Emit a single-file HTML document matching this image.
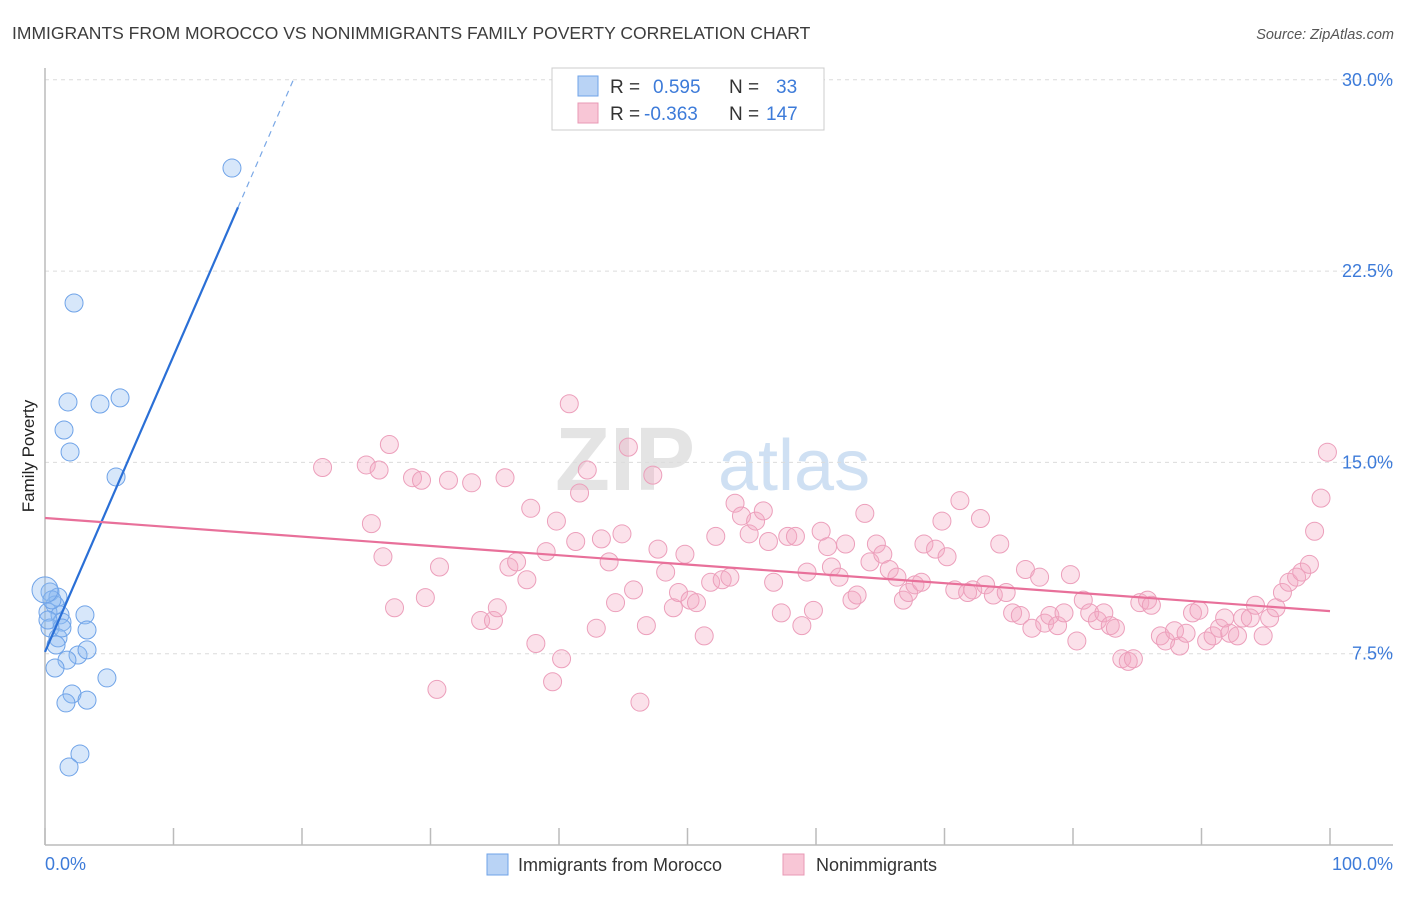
<!DOCTYPE html>
<html><head><meta charset="utf-8"><style>
body{margin:0;background:#fff;font-family:"Liberation Sans",sans-serif;}
svg text{font-family:"Liberation Sans",sans-serif;}
</style></head><body>
<svg id="chart" width="1406" height="892" xmlns="http://www.w3.org/2000/svg">
<text x="12" y="39" font-size="17.5" fill="#3c3c3c">IMMIGRANTS FROM MOROCCO VS NONIMMIGRANTS FAMILY POVERTY CORRELATION CHART</text>
<text x="1394" y="39" font-size="14.5" fill="#555" font-style="italic" text-anchor="end">Source: ZipAtlas.com</text>
<g>
<text x="555" y="490" font-size="90" fill="#e4e4e4" font-family="Liberation Serif" font-weight="bold">ZIP</text>
<text x="718" y="490" font-size="72" fill="#cfe0f3">atlas</text>
</g>
<g id="grid"></g>
<g id="axes"></g>
<text transform="translate(34,456) rotate(-90)" font-size="17" fill="#222" text-anchor="middle">Family Poverty</text>
<g id="pink"></g>
<g id="blue"></g>
<g id="lines"></g>
<g>
<rect x="552" y="68" width="272" height="62" fill="#fff" stroke="#ccc"/>
<rect x="578" y="76" width="20" height="20" fill="#b9d3f5" stroke="#6fa3e8"/>
<rect x="578" y="103" width="20" height="20" fill="#f8c6d6" stroke="#e899b5"/>
<text x="610" y="93" font-size="19" fill="#333">R = </text><text x="653" y="93" font-size="19" fill="#3d7bd9">0.595</text>
<text x="729" y="93" font-size="19" fill="#333">N = </text><text x="776" y="93" font-size="19" fill="#3d7bd9">33</text>
<text x="610" y="120" font-size="19" fill="#333">R = </text><text x="644" y="120" font-size="19" fill="#3d7bd9">-0.363</text>
<text x="729" y="120" font-size="19" fill="#333">N = </text><text x="766" y="120" font-size="19" fill="#3d7bd9">147</text>
</g>
<g>
<rect x="487" y="854" width="21" height="21" fill="#b9d3f5" stroke="#6fa3e8"/>
<text x="518" y="871" font-size="18" fill="#333">Immigrants from Morocco</text>
<rect x="783" y="854" width="21" height="21" fill="#f8c6d6" stroke="#e899b5"/>
<text x="816" y="871" font-size="18" fill="#333">Nonimmigrants</text>
</g>
</svg>
<script>
const yTicks=[7.5,15,22.5,30];
const yTickLabels=["7.5%","15.0%","22.5%","30.0%"];
const xTickLabels=["0.0%","100.0%"];
const blueX=[14.55,2.26,1.79,4.28,5.84,1.48,1.95,5.53,0.39,1.01,0.78,0.23,1.17,1.32,0.39,3.11,3.27,1.01,2.57,3.27,1.71,0.78,4.82,2.10,1.63,3.27,2.72,1.87,0.23,0.54,1.32,0,0.86];
const blueY=[26.54,21.25,17.37,17.29,17.53,16.27,15.41,14.43,9.92,9.72,9.41,9.13,9.02,8.74,8.51,9.02,8.43,8.12,7.45,7.65,7.25,6.94,6.55,5.92,5.57,5.68,3.57,3.06,8.82,9.61,8.51,10.0,7.84];
const pinkX=[21.6,25.0,26.0,26.8,25.4,26.3,27.2,28.6,29.3,29.6,30.7,30.5,31.4,33.2,33.9,34.9,35.2,35.8,36.1,36.7,37.5,37.8,38.2,39.0,39.8,39.5,40.2,40.8,41.6,42.2,41.3,42.9,43.3,43.9,44.4,44.9,45.4,45.8,46.3,46.8,47.3,47.7,48.3,48.9,49.3,49.8,50.2,50.7,51.3,51.8,52.2,52.7,53.3,53.7,54.2,54.8,55.3,55.9,56.3,56.7,57.3,57.8,58.4,58.9,59.3,59.8,60.4,60.9,61.2,61.8,62.3,62.8,63.2,63.8,64.2,64.7,65.2,65.7,66.3,66.8,67.2,67.7,68.2,68.4,69.3,69.8,70.2,70.8,71.2,71.8,72.2,72.8,73.2,73.8,74.3,74.8,75.3,75.9,76.3,76.8,77.4,77.8,78.2,78.8,79.3,79.8,80.3,80.8,81.3,81.9,82.4,82.9,83.3,83.8,84.3,84.7,85.2,85.8,86.1,86.8,87.2,87.9,88.3,88.8,89.3,89.8,90.4,90.9,91.4,91.8,92.2,92.8,93.2,93.8,94.2,94.8,95.3,95.8,96.3,96.8,97.4,97.8,98.4,98.8,99.3,99.8];
const pinkY=[14.8,14.9,14.7,15.7,12.6,11.3,9.3,14.4,14.3,9.7,10.9,6.1,14.3,14.2,8.8,8.8,9.3,14.4,10.9,11.1,10.4,13.2,7.9,11.5,12.7,6.4,7.3,17.3,13.8,14.7,11.9,8.5,12.0,11.1,9.5,12.2,15.6,10.0,5.6,8.6,14.5,11.6,10.7,9.3,9.9,11.4,9.6,9.5,8.2,10.3,12.1,10.4,10.5,13.4,12.9,12.2,12.7,13.1,11.9,10.3,9.1,12.1,12.1,8.6,10.7,9.2,12.3,11.7,10.9,10.5,11.8,9.6,9.8,13.0,11.1,11.8,11.4,10.8,10.5,9.6,9.9,10.2,10.3,11.8,11.6,12.7,11.3,10.0,13.5,9.9,10.0,12.8,10.2,9.8,11.8,9.9,9.1,9.0,10.8,8.5,10.5,8.7,9.0,8.6,9.1,10.6,8.0,9.6,9.1,8.8,9.1,8.6,8.5,7.3,7.2,7.3,9.5,9.6,9.4,8.2,8.0,8.4,7.8,8.3,9.1,9.2,8.0,8.2,8.5,8.9,8.3,8.2,8.9,8.9,9.4,8.2,8.9,9.3,9.9,10.3,10.5,10.7,11.0,12.3,13.6,15.4];
const blueTrend=[7.57,25.0];   // y at x=0 and x=15.02
const pinkTrend=[12.82,9.17];  // y at x=0 and x=100

const NS="http://www.w3.org/2000/svg";
const X0=45,X1=1330,Y0=845,PXPER=191.3/7.5;
function xs(v){return X0+(X1-X0)*v/100;}
function ys(v){return Y0-v*PXPER;}
function mk(tag,attrs,parent){const e=document.createElementNS(NS,tag);for(const k in attrs)e.setAttribute(k,attrs[k]);parent.appendChild(e);return e;}
const grid=document.getElementById('grid'),axes=document.getElementById('axes');
yTicks.forEach((t,i)=>{
  const l=mk('line',{x1:X0,x2:1393,y1:ys(t),y2:ys(t),stroke:'#dcdcdc','stroke-dasharray':'4,4'},grid);
  
  
  const tx=mk('text',{x:1393,y:ys(t)+6,'font-size':18,fill:'#3d7bd9','text-anchor':'end'},grid);
  tx.textContent=yTickLabels[i];
  
  
});
const ya=mk('line',{x1:X0,x2:X0,y1:68,y2:Y0,stroke:'#bbb','stroke-width':1.5},axes);


const xa=mk('line',{x1:X0,x2:1393,y1:Y0,y2:Y0,stroke:'#bbb','stroke-width':1.5},axes);


for(let i=0;i<=10;i++){
  const t=mk('line',{x1:xs(i*10),x2:xs(i*10),y1:828,y2:Y0,stroke:'#bbb','stroke-width':1.5},axes);
  
  
}
const xl0=mk('text',{x:45,y:870,'font-size':18,fill:'#3d7bd9'},axes);
xl0.textContent=xTickLabels[0];


const xl1=mk('text',{x:1393,y:870,'font-size':18,fill:'#3d7bd9','text-anchor':'end'},axes);
xl1.textContent=xTickLabels[1];


const pink=document.getElementById('pink');
pinkX.forEach((v,i)=>{
  const c=mk('circle',{cx:xs(v),cy:ys(pinkY[i]),r:9,fill:'rgba(244,170,196,0.35)',stroke:'#ec9fbb','stroke-width':1},pink);
  
  
});
const blue=document.getElementById('blue');
blueX.forEach((v,i)=>{
  const c=mk('circle',{cx:xs(v),cy:ys(blueY[i]),r:i==31?13:9,fill:'rgba(140,185,240,0.35)',stroke:'#6fa3e8','stroke-width':1},blue);
  
  
});
const lines=document.getElementById('lines');
const slope=(blueTrend[1]-blueTrend[0])/15.02;
const bl=mk('line',{x1:xs(0),y1:ys(blueTrend[0]),x2:xs(15.02),y2:ys(blueTrend[1]),stroke:'#2a6fd6','stroke-width':2.2},lines);


const xe=(30-blueTrend[0])/slope;
const bd=mk('line',{x1:xs(15.02),y1:ys(blueTrend[1]),x2:xs(xe),y2:ys(30),stroke:'#7aa8e6','stroke-width':1.2,'stroke-dasharray':'6,5'},lines);


const pl=mk('line',{x1:xs(0),y1:ys(pinkTrend[0]),x2:xs(100),y2:ys(pinkTrend[1]),stroke:'#e8709a','stroke-width':2.2},lines);


</script>
</body></html>
